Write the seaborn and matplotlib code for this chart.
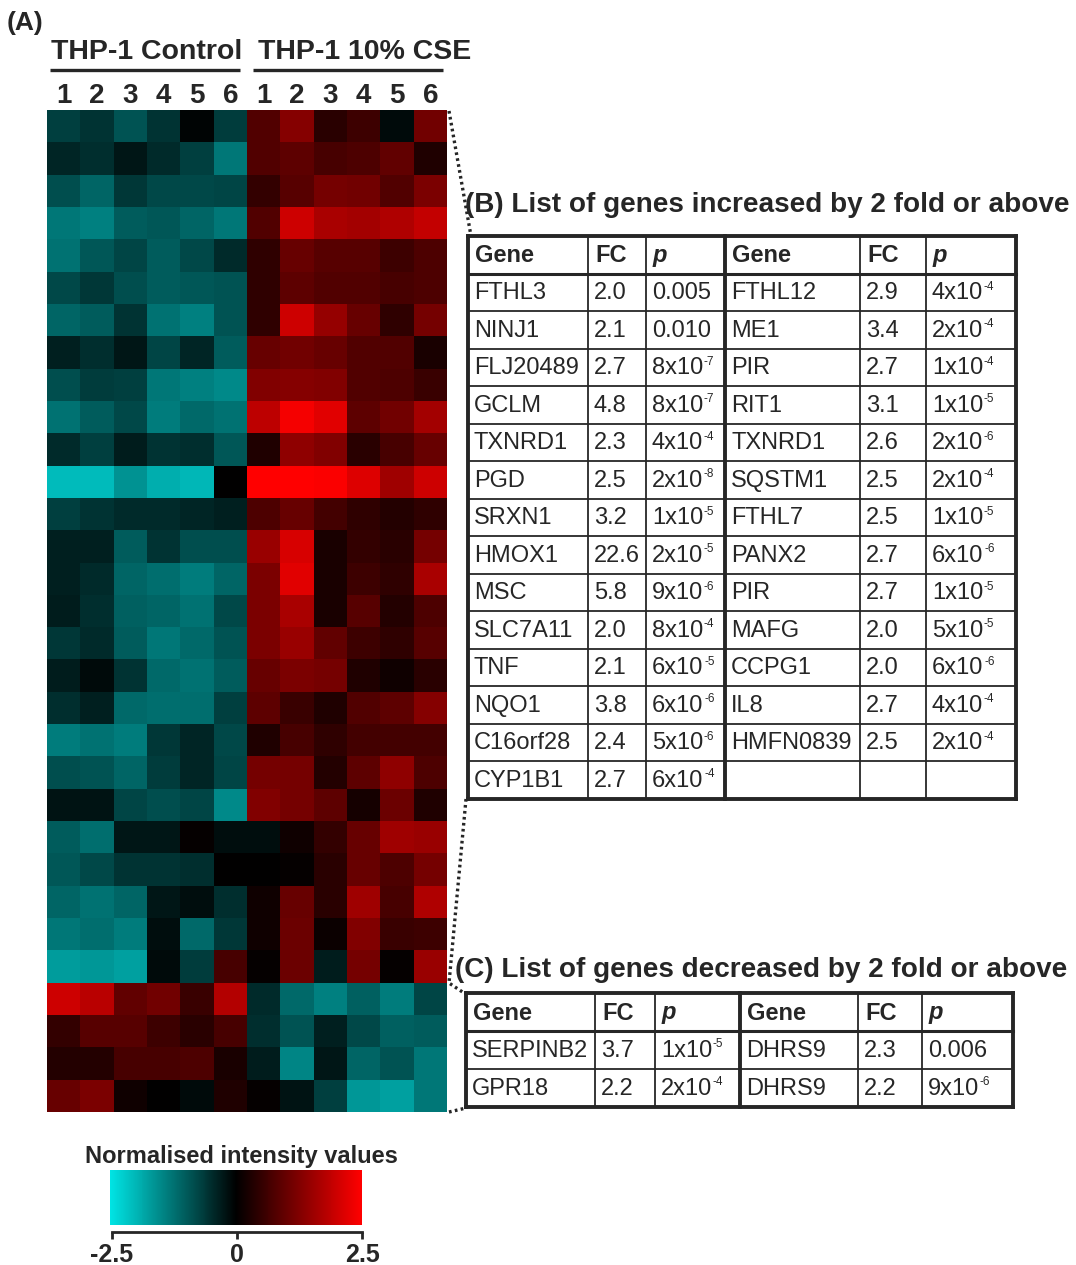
import numpy as np
import pandas as pd
import matplotlib
matplotlib.use("Agg")
import matplotlib.pyplot as plt
import seaborn as sns
from matplotlib.colors import LinearSegmentedColormap

# ---------------------------------------------------------------- data
group_names = ["THP-1 Control", "THP-1 10% CSE"]
sample_labels = ["1", "2", "3", "4", "5", "6", "1", "2", "3", "4", "5", "6"]

# normalised intensities, genes up-regulated by CSE (control 1-6, CSE 1-6)
up_rows = [
    [-0.70, -0.55, -0.90, -0.55, -0.05, -0.65, 0.80, 1.30, 0.40, 0.60, -0.10, 1.10],
    [-0.40, -0.50, -0.25, -0.45, -0.70, -1.30, 0.80, 0.90, 0.70, 0.75, 0.95, 0.30],
    [-0.85, -1.10, -0.60, -0.80, -0.80, -0.75, 0.50, 0.85, 1.15, 1.10, 0.80, 1.20],
    [-1.30, -1.40, -1.00, -0.95, -1.10, -1.30, 0.80, 2.00, 1.65, 1.60, 1.70, 1.90],
    [-1.25, -0.95, -0.75, -1.00, -0.80, -0.45, 0.45, 1.00, 0.85, 0.85, 0.60, 0.75],
    [-0.80, -0.60, -0.85, -1.00, -0.95, -0.90, 0.45, 0.90, 0.80, 0.80, 0.70, 0.75],
    [-1.10, -1.00, -0.55, -1.25, -1.40, -0.90, 0.45, 2.00, 1.45, 1.00, 0.45, 1.15],
    [-0.35, -0.50, -0.25, -0.75, -0.40, -1.00, 1.00, 1.10, 1.00, 0.80, 0.80, 0.25],
    [-0.85, -0.65, -0.70, -1.30, -1.40, -1.50, 1.25, 1.30, 1.25, 0.80, 0.75, 0.55],
    [-1.25, -1.00, -0.80, -1.35, -1.15, -1.25, 1.85, 2.40, 2.20, 0.90, 1.10, 1.60],
    [-0.45, -0.70, -0.30, -0.55, -0.50, -0.95, 0.30, 1.40, 1.25, 0.40, 0.70, 1.00],
    [-2.05, -2.05, -1.60, -1.90, -2.00, 0.00, 2.50, 2.50, 2.45, 2.15, 1.55, 2.00],
    [-0.70, -0.55, -0.45, -0.45, -0.40, -0.35, 0.75, 1.00, 0.65, 0.45, 0.35, 0.45],
    [-0.35, -0.35, -1.00, -0.55, -0.85, -0.85, 1.50, 2.10, 0.25, 0.50, 0.40, 1.15],
    [-0.35, -0.45, -1.10, -1.20, -1.35, -1.10, 1.20, 2.20, 0.25, 0.60, 0.45, 1.65],
    [-0.30, -0.50, -1.05, -1.10, -1.25, -0.80, 1.20, 1.65, 0.25, 0.85, 0.35, 0.75],
    [-0.60, -0.45, -1.00, -1.30, -1.15, -0.90, 1.20, 1.50, 0.95, 0.60, 0.45, 0.85],
    [-0.30, -0.10, -0.55, -1.15, -1.25, -1.00, 1.00, 1.20, 1.15, 0.30, 0.15, 0.40],
    [-0.50, -0.35, -1.15, -1.20, -1.20, -0.70, 0.90, 0.55, 0.30, 0.80, 0.90, 1.30],
    [-1.35, -1.25, -1.35, -0.60, -0.40, -0.80, 0.30, 0.70, 0.45, 0.65, 0.65, 0.65],
    [-0.85, -0.90, -1.10, -0.65, -0.40, -0.75, 1.15, 1.15, 0.35, 0.90, 1.40, 0.75],
    [-0.20, -0.20, -0.75, -0.85, -0.75, -1.50, 1.25, 1.15, 0.90, 0.20, 1.05, 0.30],
    [-1.00, -1.20, -0.25, -0.25, 0.05, -0.15, -0.15, 0.15, 0.50, 1.00, 1.55, 1.50],
    [-0.95, -0.80, -0.55, -0.55, -0.50, 0.00, 0.00, 0.05, 0.40, 1.00, 0.75, 1.15],
    [-1.10, -1.25, -1.10, -0.25, -0.15, -0.50, 0.15, 1.00, 0.40, 1.55, 0.70, 1.70],
    [-1.30, -1.20, -1.35, -0.15, -1.15, -0.60, 0.15, 1.05, 0.10, 1.25, 0.55, 0.60],
    [-1.70, -1.65, -1.75, -0.10, -0.65, 0.70, 0.05, 1.05, -0.30, 1.15, 0.05, 1.50],
]
# genes down-regulated by CSE
down_rows = [
    [2.00, 1.80, 0.95, 1.10, 0.55, 1.75, -0.45, -1.15, -1.40, -1.05, -1.35, -0.75],
    [0.50, 0.85, 0.85, 0.60, 0.40, 0.70, -0.50, -0.90, -0.35, -0.80, -1.05, -1.00],
    [0.35, 0.35, 0.70, 0.70, 0.75, 0.25, -0.30, -1.45, -0.25, -1.10, -0.90, -1.30],
    [1.00, 1.20, 0.15, 0.00, -0.10, 0.30, 0.05, -0.20, -0.70, -1.65, -1.75, -1.30],
]

# table (B): genes increased by 2 fold or above
up_gene_a = ["FTHL3", "NINJ1", "FLJ20489", "GCLM", "TXNRD1", "PGD", "SRXN1",
             "HMOX1", "MSC", "SLC7A11", "TNF", "NQO1", "C16orf28", "CYP1B1"]
up_fc_a = ["2.0", "2.1", "2.7", "4.8", "2.3", "2.5", "3.2",
           "22.6", "5.8", "2.0", "2.1", "3.8", "2.4", "2.7"]
up_p_a = ["0.005", "0.010", "8x10^-7", "8x10^-7", "4x10^-4", "2x10^-8", "1x10^-5",
          "2x10^-5", "9x10^-6", "8x10^-4", "6x10^-5", "6x10^-6", "5x10^-6", "6x10^-4"]
up_gene_b = ["FTHL12", "ME1", "PIR", "RIT1", "TXNRD1", "SQSTM1", "FTHL7",
             "PANX2", "PIR", "MAFG", "CCPG1", "IL8", "HMFN0839", ""]
up_fc_b = ["2.9", "3.4", "2.7", "3.1", "2.6", "2.5", "2.5",
           "2.7", "2.7", "2.0", "2.0", "2.7", "2.5", ""]
up_p_b = ["4x10^-4", "2x10^-4", "1x10^-4", "1x10^-5", "2x10^-6", "2x10^-4", "1x10^-5",
          "6x10^-6", "1x10^-5", "5x10^-5", "6x10^-6", "4x10^-4", "2x10^-4", ""]

# table (C): genes decreased by 2 fold or above
down_gene_a = ["SERPINB2", "GPR18"]
down_fc_a = ["3.7", "2.2"]
down_p_a = ["1x10^-5", "2x10^-4"]
down_gene_b = ["DHRS9", "DHRS9"]
down_fc_b = ["2.3", "2.2"]
down_p_b = ["0.006", "9x10^-6"]

table_header = ["Gene", "FC", "p", "Gene", "FC", "p"]
cbar_ticks = [-2.5, 0, 2.5]
cbar_ticklabels = ["-2.5", "0", "2.5"]

# ---------------------------------------------------------------- style
sns.set_theme(style="white")
FONT = ["Liberation Sans", "DejaVu Sans"]
plt.rcParams["font.family"] = FONT

W, H = 1076, 1265
INK = "#262626"
fig = plt.figure(figsize=(W / 100, H / 100), dpi=100)
fig.patch.set_facecolor("white")


def rect(x0, y0, x1, y1):
    return [x0 / W, 1 - y1 / H, (x1 - x0) / W, (y1 - y0) / H]


cmap = LinearSegmentedColormap.from_list(
    "cyan_black_red", [(0.0, "#00e4e4"), (0.5, "#000000"), (1.0, "#ff0000")])

# ---------------------------------------------------------------- heatmap
values = pd.DataFrame(up_rows + down_rows)
ax = fig.add_axes(rect(47, 110, 447, 1112))
sns.heatmap(values, ax=ax, cmap=cmap, vmin=-2.5, vmax=2.5, cbar=False,
            xticklabels=sample_labels, yticklabels=False, linewidths=0)
ax.xaxis.tick_top()
ax.tick_params(axis="x", length=0, pad=1, labelsize=20, colors=INK, rotation=0)
for t in ax.get_xticklabels():
    t.set_fontweight("bold")

# sample group headers with underlines
n_ctrl = 6
ax.plot([0.09, n_ctrl - 0.21], [-1.24, -1.24], color=INK, lw=2.4, clip_on=False,
        solid_capstyle="butt")
ax.plot([n_ctrl + 0.18, 2 * n_ctrl - 0.12], [-1.24, -1.24], color=INK, lw=2.4,
        clip_on=False, solid_capstyle="butt")
ax.text(0.13, -1.80, group_names[0], fontsize=20.5, fontweight="bold", color=INK,
        ha="left", va="center", clip_on=False)
ax.text(n_ctrl + 0.32, -1.80, group_names[1], fontsize=20.5, fontweight="bold",
        color=INK, ha="left", va="center", clip_on=False)

# ---------------------------------------------------------------- colour bar
cax = fig.add_axes(rect(110, 1170, 362, 1225))
cb = fig.colorbar(ax.collections[0], cax=cax, orientation="horizontal")
cb.outline.set_visible(False)
cax.set_xticks([])
cax.set_yticks([])

sax = fig.add_axes(rect(112, 1231, 362, 1231.5))
sax.set_xlim(-2.5, 2.5)
sax.set_facecolor("none")
for side in ["top", "left", "right"]:
    sax.spines[side].set_visible(False)
sax.spines["bottom"].set_color(INK)
sax.spines["bottom"].set_linewidth(2)
sax.set_yticks([])
sax.set_xticks(cbar_ticks)
sax.set_xticklabels(cbar_ticklabels, fontsize=18, fontweight="bold", color=INK)
sax.tick_params(axis="x", direction="out", length=5, width=2, color=INK, pad=3,
                bottom=True)

# ---------------------------------------------------------------- overlay
ov = fig.add_axes([0, 0, 1, 1])
ov.set_xlim(0, W)
ov.set_ylim(H, 0)
ov.axis("off")
ov.patch.set_alpha(0)

ov.text(7, 23, "(A)", fontsize=19, fontweight="bold", color=INK, va="center")
ov.text(241, 1156, "Normalised intensity values", fontsize=17, fontweight="bold",
        color=INK, ha="center", va="center")
ov.text(465, 205, "(B) List of genes increased by 2 fold or above", fontsize=20.1,
        fontweight="bold", color=INK, va="center")
ov.text(455, 970, "(C) List of genes decreased by 2 fold or above", fontsize=20.1,
        fontweight="bold", color=INK, va="center")

BODY = 17


def put_value(x, y, s):
    """Cell text; a '^' splits off a small raised exponent."""
    if "^" in s:
        base, exp = s.split("^")
        t = ov.text(x, y, base, fontsize=BODY, color=INK, va="center", ha="left")
        ov.annotate(exp, xy=(1, 0.80), xycoords=t, xytext=(0.5, 0),
                    textcoords="offset points", fontsize=8.5, color=INK,
                    va="center", ha="left")
    else:
        ov.text(x, y, s, fontsize=BODY, color=INK, va="center", ha="left")


def draw_table(xs, y_top, row_h, columns):
    n = len(columns[0]) + 1
    ys = [y_top + i * row_h for i in range(n + 1)]
    for i, y in enumerate(ys):
        lw = 2.8 if i in (0, n) else (2.2 if i == 1 else 1.3)
        ov.plot([xs[0], xs[-1]], [y, y], color=INK, lw=lw, solid_capstyle="projecting")
    for j, x in enumerate(xs):
        lw = 2.8 if j in (0, 3, len(xs) - 1) else 1.3
        ov.plot([x, x], [ys[0], ys[-1]], color=INK, lw=lw, solid_capstyle="projecting")
    for j, head in enumerate(table_header):
        style = "italic" if head == "p" else "normal"
        ov.text(xs[j] + 7, ys[0] + row_h / 2 + 1, head, fontsize=BODY, fontweight="bold",
                fontstyle=style, color=INK, va="center", ha="left")
    for j, col in enumerate(columns):
        for i, val in enumerate(col):
            if val:
                put_value(xs[j] + 6, ys[i + 1] + row_h / 2 + 1, val)


draw_table([468, 588, 646, 725, 860, 926, 1016], 236, 37.5,
           [up_gene_a, up_fc_a, up_p_a, up_gene_b, up_fc_b, up_p_b])
draw_table([466, 595, 655, 740, 858, 922, 1013], 993, 38,
           [down_gene_a, down_fc_a, down_p_a, down_gene_b, down_fc_b, down_p_b])

# dotted leaders from the heatmap to the tables
dot = dict(color=INK, lw=2.4, linestyle=(0, (0.8, 1.0)), dash_capstyle="butt")
ov.plot([449, 471], [111, 236], **dot)
ov.plot([466, 449, 464], [799, 983, 993], **dot)
ov.plot([449, 466], [1112, 1108], **dot)

fig.savefig("out.png", dpi=100, facecolor="white")
